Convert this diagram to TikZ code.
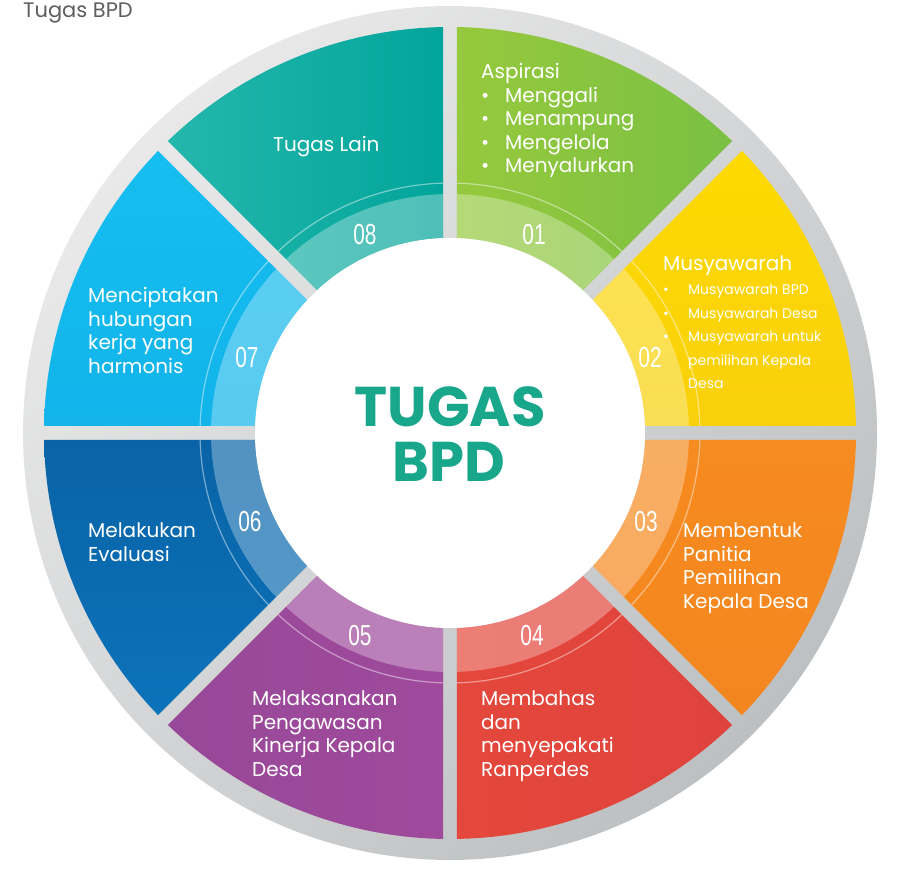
\documentclass[tikz,border=0pt]{standalone}
\usepackage{fontspec}
\setmainfont{Poppins}
\newfontfamily\numfont{Liberation Sans}
\definecolor{ringL}{HTML}{E9E9E9}
\definecolor{ringD}{HTML}{BDC0C2}
\definecolor{tealA}{HTML}{24B7AC}
\definecolor{tealB}{HTML}{02A59B}
\definecolor{greenA}{HTML}{96C93D}
\definecolor{greenB}{HTML}{7AC043}
\definecolor{yelA}{HTML}{FDDA00}
\definecolor{yelB}{HTML}{F9D00C}
\definecolor{oraA}{HTML}{F68B1F}
\definecolor{oraB}{HTML}{F4861F}
\definecolor{redA}{HTML}{E4473B}
\definecolor{redB}{HTML}{E0433D}
\definecolor{purA}{HTML}{9F4A9C}
\definecolor{purB}{HTML}{984898}
\definecolor{bluA}{HTML}{0A63A6}
\definecolor{bluB}{HTML}{0B73BA}
\definecolor{lbluA}{HTML}{15BEF0}
\definecolor{lbluB}{HTML}{12B4EA}
\definecolor{ctrtxt}{HTML}{19A78C}
\definecolor{titletxt}{HTML}{5E5E5E}
\newcommand\secfill[5]{%
  \pgfmathsetmacro\aoS{#2+asin(7/#5)}%
  \pgfmathsetmacro\aoE{#3-asin(7/#5)}%
  \pgfmathsetmacro\aiS{#2+asin(7/#4)}%
  \pgfmathsetmacro\aiE{#3-asin(7/#4)}%
  \path[#1] (\aoS:#5) arc[start angle=\aoS,end angle=\aoE,radius=#5]
    -- (\aiE:#4) arc[start angle=\aiE,end angle=\aiS,radius=#4] -- cycle;}
\newcommand\secarc[4]{%
  \pgfmathsetmacro\aoS{#2+asin(7/#4)}%
  \pgfmathsetmacro\aoE{#3-asin(7/#4)}%
  \path[#1] (\aoS:#4) arc[start angle=\aoS,end angle=\aoE,radius=#4];}
\tikzset{
  txt/.style={text=white, anchor=base west, align=left, inner sep=0pt,
    font=\fontsize{20}{23.5}\selectfont},
  subtxt/.style={text=white, anchor=base west, align=left, inner sep=0pt,
    font=\fontsize{14}{23.5}\selectfont},
  num/.style={text=white, inner sep=0pt, font=\fontsize{29}{29}\numfont},
  ctr/.style={text=ctrtxt, anchor=base, inner sep=0pt,
    font=\fontsize{56}{56}\selectfont\bfseries},
  band/.style={fill=white, fill opacity=0.3},
  thin/.style={draw=white, draw opacity=0.45, line width=1.2pt}
}
\newcommand\bul{\makebox[24pt][l]{\textbullet}}
\newcommand\sbul{\makebox[25pt][l]{\textbullet}}
\begin{document}
\begin{tikzpicture}[x=1pt,y=1pt]
\useasboundingbox (0,0) rectangle (906,870);
\begin{scope}[shift={(450,437)}]
  \shade[top color=ringL, bottom color=ringD, shading angle=45] (0,0) circle[radius=427];
  \secfill{shade, left color=greenA, right color=greenB}{45}{90}{195}{406}
  \secfill{shade, top color=yelA, bottom color=yelB}{0}{45}{195}{406}
  \secfill{shade, top color=oraA, bottom color=oraB}{-45}{0}{195}{406}
  \secfill{shade, left color=redA, right color=redB}{-90}{-45}{195}{406}
  \secfill{shade, left color=purB, right color=purA}{-135}{-90}{195}{406}
  \secfill{shade, top color=bluA, bottom color=bluB}{180}{225}{195}{406}
  \secfill{shade, top color=lbluA, bottom color=lbluB}{135}{180}{195}{406}
  \secfill{shade, left color=tealA, right color=tealB}{90}{135}{195}{406}
  \foreach \a in {0,45,...,315}{
    \secfill{band}{\a}{\a+45}{195}{239}
    \secarc{thin}{\a}{\a+45}{250}
  }
  \fill[white] (0,0) circle[radius=195];
\end{scope}

\node[anchor=base west, inner sep=0pt, text=titletxt, font=\fontsize{21}{21}\selectfont] (title) at (23,852) {Tugas BPD};

\node[ctr] (tugas) at (450,443) {TUGAS};
\node[ctr] (bpd) at (449,388) {BPD};

\node[num] (n08) at (365,635) {\scalebox{0.72}[1]{08}};
\node[num] (n01) at (534,635) {\scalebox{0.72}[1]{01}};
\node[num] (n02) at (650,512) {\scalebox{0.72}[1]{02}};
\node[num] (n03) at (646,348) {\scalebox{0.72}[1]{03}};
\node[num] (n04) at (532,234) {\scalebox{0.72}[1]{04}};
\node[num] (n05) at (360,234) {\scalebox{0.72}[1]{05}};
\node[num] (n06) at (250,348) {\scalebox{0.72}[1]{06}};
\node[num] (n07) at (247,512) {\scalebox{0.72}[1]{07}};

\node[txt] (t08) at (273,718) {Tugas Lain};
\node[txt] (t01) at (481,697) {Aspirasi\\\bul Menggali\\\bul Menampung\\\bul Mengelola\\\bul Menyalurkan};
\node[txt] (t02) at (663,599) {Musyawarah};
\node[subtxt] (t02s) at (663,481) {\sbul Musyawarah BPD\\\sbul Musyawarah Desa\\\sbul Musyawarah untuk\\\hspace*{25pt}pemilihan Kepala\\\hspace*{25pt}Desa};
\node[txt] (t03) at (683,261.5) {Membentuk\\Panitia\\Pemilihan\\Kepala Desa};
\node[txt] (t04) at (481,93.5) {Membahas\\dan\\menyepakati\\Ranperdes};
\node[txt] (t05) at (252,93.5) {Melaksanakan\\Pengawasan\\Kinerja Kepala\\Desa};
\node[txt] (t06) at (88,308.5) {Melakukan\\Evaluasi};
\node[txt] (t07) at (88,496.5) {Menciptakan\\hubungan\\kerja yang\\harmonis};
\end{tikzpicture}
\end{document}
